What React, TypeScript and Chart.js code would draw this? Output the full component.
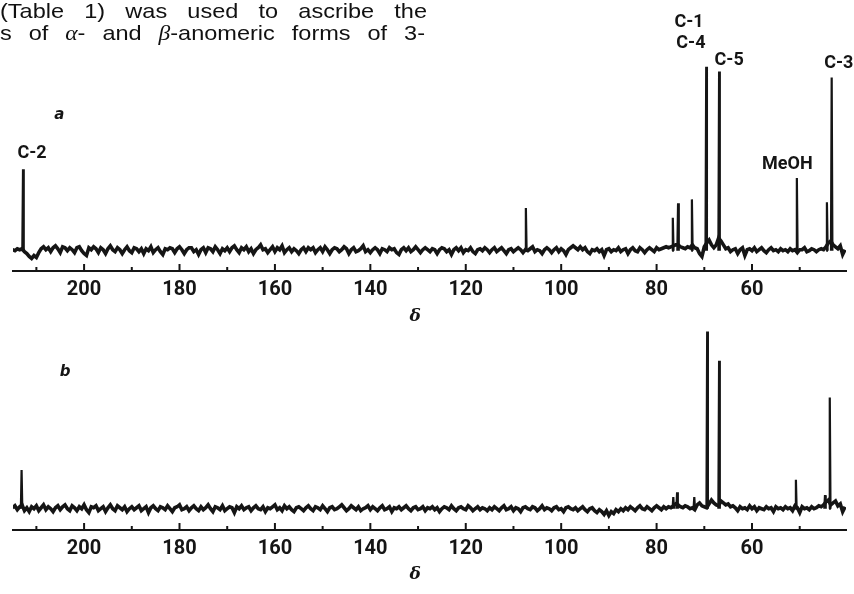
import React, { useEffect, useRef } from "react";
import { Chart, registerables } from "chart.js";
Chart.register(...registerables);

// ---- axis ----
const axisMin = 40.3;
const axisMax = 214.9;
const majorTicks = [200, 180, 160, 140, 120, 100, 80, 60];
const minorTicks = [210, 190, 170, 150, 130, 110, 90, 70, 50];
const allTicks = [...majorTicks, ...minorTicks].sort((a, b) => b - a);

// ---- baseline sampling grid (ppm) ----
const gridStart = 215;
const gridStep = 0.5;

// ---- spectrum a: baseline noise ----
const noiseA = [
  1, 0, 2, 1, 2, -1, -3, -6, -8, -5, -7, -2, 2, 4, 1, 3, -1, 3, 5, 2, -2, 4, 3, 0, 3,
  1, -2, 3, 4, 0, -3, -5, 3, 1, 4, 2, -2, 3, 1, -3, 2, 5, 1, -1, 3, 1, -3, 1, 4, 0,
  -2, 3, 2, -1, 2, -3, 2, 0, 4, -2, 1, 3, -1, -4, 2, 1, 3, 2, -2, 2, 4, 1, -3, 1, 3,
  3, -1, 1, -4, 1, 3, -2, 3, 2, -1, 4, 1, -3, 2, 0, 3, -1, 3, 5, 1, -2, 3, 1, 4, -1,
  2, -3, 1, 3, 6, 1, 2, -2, 1, 4, -1, 3, 1, 5, -2, 1, 3, -1, 2, 0, -3, 1, 3, -1, 3,
  1, 3, -2, 1, 3, -1, 4, 1, -3, 1, 3, 2, -1, 1, 4, 2, -3, 1, 3, -1, 0, 2, 5, -1, 1,
  -2, 1, 3, 1, -3, 2, 1, -1, 3, 1, 2, -2, -4, 1, 3, 0, 3, -1, 1, 4, 1, -2, 1, 3, 1,
  -1, 2, 1, -3, 1, 3, 2, -1, 1, -4, 1, 3, 0, 3, -2, 1, 0, 3, -1, -3, 1, 2, 0, 3, 1,
  -2, 1, 3, -1, 1, 3, 0, -3, 1, 2, -1, 1, 3, 1, -2, 1, 0, 2, 4, -1, 1, 0, -3, 1, 3,
  1, -2, 1, 3, -1, 2, 0, -4, 1, 3, 5, 3, 1, 4, 1, 3, -1, -3, 1, 0, 2, -1, 1, -5, 1,
  2, -1, 1, 0, 3, -1, 1, 2, -3, 1, 3, 0, -1, 3, 1, -2, 1, 3, 1, -1, 3, 1, 2, 3, 4,
  3, 4, 5, 6, 6, 4, 3, 2, 4, 3, 6, 3, 2, -3, -6, 4, 8, 11, 6, 3, 6, 13, 10, 6, 2,
  3, -1, 1, 2, -3, 1, 3, -5, 1, 2, 0, 3, -1, 1, 3, 0, -2, 1, 3, 0, 1, -1, 2, 0, 1,
  -1, 2, 0, 1, -2, 1, 1, 3, -1, 0, 2, 1, -1, 1, 2, 1, 4, 8, 10, 6, 4, 2, 5, -4, 1,
];
const peakPpmA = [212.8, 107.4, 76.6, 75.5, 72.6, 69.6, 66.9, 50.6, 44.3, 43.3];
const peakHeightA = [84, 44, 34, 49, 53, 190, 185, 75, 50, 179];

// ---- spectrum b ----
const noiseB = [
  1, 3, -1, 2, 4, -2, 1, -3, 2, 0, 3, -2, 1, 4, -1, 2, 0, -3, 1, 3, -1, 2, 4, 0, -2,
  3, 1, -2, 2, 0, 4, -1, -4, 2, 1, 3, -2, 0, 2, -3, 1, 4, 0, -2, 3, 1, -1, 2, -3, 0,
  2, -1, 1, 3, -2, 0, 2, -4, 1, 3, 0, -2, 2, 1, -1, 3, 0, -3, 1, 2, 4, -1, 0, 2, -2,
  1, 3, 0, -2, 2, -1, 1, 4, 0, -3, 2, 1, -1, 3, -2, 0, 2, 1, -4, 2, 0, 3, -1, 1, 2,
  -2, 1, 3, 0, -1, 2, -3, 1, 0, 2, 4, -1, 1, -2, 3, 0, 2, -1, -3, 1, 2, 0, -2, 1, 3,
  0, -2, 2, 1, -1, 3, 0, -3, 1, 2, -1, 0, 2, 4, 1, -2, 0, 3, 1, -1, 2, -2, 0, 1, 3,
  -1, 2, 0, -2, 1, 3, -1, 0, 2, -3, 1, 0, 2, -1, 1, 3, 0, -2, 1, 2, -1, 0, 2, -2, 1,
  0, 2, -1, 1, -3, 0, 2, 1, -1, 3, 0, -2, 1, 2, 0, -1, 3, 1, -2, 0, 2, -1, 1, 0, -2,
  1, -1, 2, 0, -2, 1, 3, -1, 0, 2, -2, 1, 0, -3, 1, 2, 0, -1, 2, 1, -2, 0, 3, -1, 1,
  0, -2, 1, 2, -1, 0, -3, 1, 2, 0, -1, 1, -2, 0, 2, -1, -3, 0, 1, -2, -4, -1, -3, -6, -2,
  -7, -3, -5, -1, -3, 0, -2, 1, -1, 2, 0, -2, 1, 3, 0, -1, 2, 0, -2, 1, 3, 1, -1, 2, 0,
  2, 1, 3, 5, 4, 2, 1, 3, 2, 0, 1, -1, 4, 6, 3, 2, 1, 5, 9, 6, 4, 3, 8, 6, 4,
  5, 2, 3, 1, -2, 2, 0, 1, -1, 3, 0, 2, -2, 1, 0, -1, 2, 0, 1, -3, 2, 0, 1, -1, 2,
  0, 1, -2, 3, 1, -4, 2, 0, 1, -1, 2, 0, 1, 3, 2, 4, 7, 9, 4, 6, 8, 3, 5, -3, 2,
];
const peakPpmB = [213.1, 76.5, 75.7, 72.1, 69.4, 66.9, 50.8, 44.7, 43.7];
const peakHeightB = [40, 12, 17, 12, 183, 153, 30, 14, 115];

// ---- annotations (text, ppm, intensity) ----
const labelTextA = ["C-1", "C-4", "C-5", "C-3", "MeOH", "C-2"];
const labelPpmA = [73.2, 72.8, 64.8, 41.8, 52.6, 210.9];
const labelYA = [236, 214, 197, 193, 89, 100];

const panelLetters = ["a", "b"];
const panelLetterPpm = [205.2, 204];
const panelLetterY = [140, 141];
const deltaPpm = 130.6;
const deltaY = -68;

// ---- page text above the figure (*...* = italic) ----
const headLines = ["(Table 1) was used to ascribe the", "s of *α*- and *β*-anomeric forms of 3-"];

function buildNoise(noise: number[]) {
  return noise.map((v, i) => ({ x: gridStart - i * gridStep, y: v }));
}

function buildPeaks(ppm: number[], h: number[]) {
  const pts: { x: number; y: number | null }[] = [];
  ppm.forEach((p, i) => {
    pts.push({ x: p + 0.15, y: 0 }, { x: p, y: h[i] }, { x: p - 0.15, y: 0 }, { x: p - 0.16, y: null });
  });
  return pts;
}

const INK = "#151515";
const LABEL_FONT = "bold 18px Roboto, 'DejaVu Sans', sans-serif";

function drawJustified(ctx: CanvasRenderingContext2D, line: string, left: number, width: number, baseline: number) {
  const size = 21;
  const sx = 1.12;
  const fontN = `${size}px 'Liberation Sans', Arial, sans-serif`;
  const fontI = `italic ${size}px 'Liberation Serif', 'DejaVu Serif', serif`;
  const words = line.split(" ").map((w) =>
    w
      .split("*")
      .map((t, i) => ({ t, it: i % 2 === 1 }))
      .filter((r) => r.t.length > 0)
  );
  const widths = words.map((runs) =>
    runs.reduce((s, r) => {
      ctx.font = r.it ? fontI : fontN;
      return s + ctx.measureText(r.t).width * sx;
    }, 0)
  );
  const total = widths.reduce((a, b) => a + b, 0);
  const gap = (width - total) / (words.length - 1);
  let x = left;
  ctx.textAlign = "left";
  ctx.textBaseline = "alphabetic";
  words.forEach((runs, wi) => {
    let rx = x;
    runs.forEach((r) => {
      ctx.font = r.it ? fontI : fontN;
      const w = ctx.measureText(r.t).width * sx;
      ctx.save();
      ctx.translate(rx, baseline);
      ctx.scale(sx, 1);
      ctx.fillText(r.t, 0, 0);
      ctx.restore();
      rx += w;
    });
    x += widths[wi] + gap;
  });
}

const annotPlugin = {
  id: "annot",
  afterDraw(chart: any, _args: any, opts: any) {
    const ctx = chart.ctx;
    const xs = chart.scales.x;
    const ys = chart.scales.y;
    const bottom = chart.chartArea.bottom;
    ctx.save();
    ctx.strokeStyle = INK;
    ctx.lineWidth = 2;
    allTicks.forEach((v) => {
      const px = xs.getPixelForValue(v);
      const len = majorTicks.includes(v) ? 7 : 4;
      ctx.beginPath();
      ctx.moveTo(px, bottom);
      ctx.lineTo(px, bottom - len);
      ctx.stroke();
    });
    ctx.fillStyle = INK;
    ctx.textAlign = "center";
    ctx.textBaseline = "middle";
    (opts.labels || []).forEach((l: any) => {
      ctx.font = l.font;
      ctx.fillText(l.text, xs.getPixelForValue(l.x), ys.getPixelForValue(l.y));
    });
    if (opts.head) {
      ctx.fillStyle = "#111";
      drawJustified(ctx, headLines[0], 0, 427, 18);
      drawJustified(ctx, headLines[1], 0, 425, 40);
    }
    ctx.restore();
  },
};

function makeConfig(noise: any[], peaks: any[], yMin: number, yMax: number, pad: any, labels: any[], head: boolean) {
  return {
    type: "line" as const,
    data: {
      datasets: [
        {
          data: noise,
          borderColor: INK,
          borderWidth: 3.6,
          pointRadius: 0,
          tension: 0,
          fill: false,
          borderJoinStyle: "miter" as const,
        },
        {
          data: peaks,
          borderColor: INK,
          borderWidth: 2.2,
          pointRadius: 0,
          tension: 0,
          fill: false,
          spanGaps: false,
          borderJoinStyle: "miter" as const,
        },
      ],
    },
    options: {
      animation: false as const,
      responsive: false,
      maintainAspectRatio: false,
      layout: { padding: pad },
      plugins: {
        legend: { display: false },
        tooltip: { enabled: false },
        annot: { labels, head },
      },
      scales: {
        x: {
          type: "linear" as const,
          reverse: true,
          min: axisMin,
          max: axisMax,
          afterBuildTicks: (s: any) => {
            s.ticks = allTicks.map((v) => ({ value: v }));
          },
          ticks: {
            autoSkip: false,
            maxRotation: 0,
            padding: 7,
            color: INK,
            font: { family: "Roboto, 'DejaVu Sans', sans-serif", size: 20, weight: "bold" },
            callback: (v: any) => (majorTicks.includes(Number(v)) ? String(v) : ""),
          },
          grid: { display: false, drawTicks: false },
          border: { display: true, color: INK, width: 2 },
        },
        y: { display: false, min: yMin, max: yMax },
      },
    },
    plugins: [annotPlugin],
  };
}

export default function App() {
  const refA = useRef<HTMLCanvasElement>(null);
  const refB = useRef<HTMLCanvasElement>(null);

  useEffect(() => {
    const letterFont = "italic bold 15px 'DejaVu Sans', sans-serif";
    const deltaFont = "italic bold 17px 'DejaVu Serif', serif";
    const labelsA = labelTextA.map((t, i) => ({ text: t, x: labelPpmA[i], y: labelYA[i], font: LABEL_FONT }));
    labelsA.push({ text: panelLetters[0], x: panelLetterPpm[0], y: panelLetterY[0], font: letterFont });
    labelsA.push({ text: "δ", x: deltaPpm, y: deltaY, font: deltaFont });
    const labelsB = [
      { text: panelLetters[1], x: panelLetterPpm[1], y: panelLetterY[1], font: letterFont },
      { text: "δ", x: deltaPpm, y: deltaY, font: deltaFont },
    ];
    const a = new Chart(
      refA.current!,
      makeConfig(buildNoise(noiseA), buildPeaks(peakPpmA, peakHeightA), -21, 197, { left: 13, right: 8, top: 60, bottom: 31 }, labelsA, true) as any
    );
    const b = new Chart(
      refB.current!,
      makeConfig(buildNoise(noiseB), buildPeaks(peakPpmB, peakHeightB), -22, 195, { left: 13, right: 8, top: 20, bottom: 26 }, labelsB, false) as any
    );
    return () => {
      a.destroy();
      b.destroy();
    };
  }, []);

  return (
    <div style={{ position: "absolute", left: 0, top: 0, width: 854, height: 594, background: "#fff", overflow: "hidden" }}>
      <canvas ref={refA} width={854} height={340} style={{ position: "absolute", left: 0, top: 0, width: 854, height: 340 }} />
      <canvas ref={refB} width={854} height={294} style={{ position: "absolute", left: 0, top: 300, width: 854, height: 294 }} />
    </div>
  );
}
